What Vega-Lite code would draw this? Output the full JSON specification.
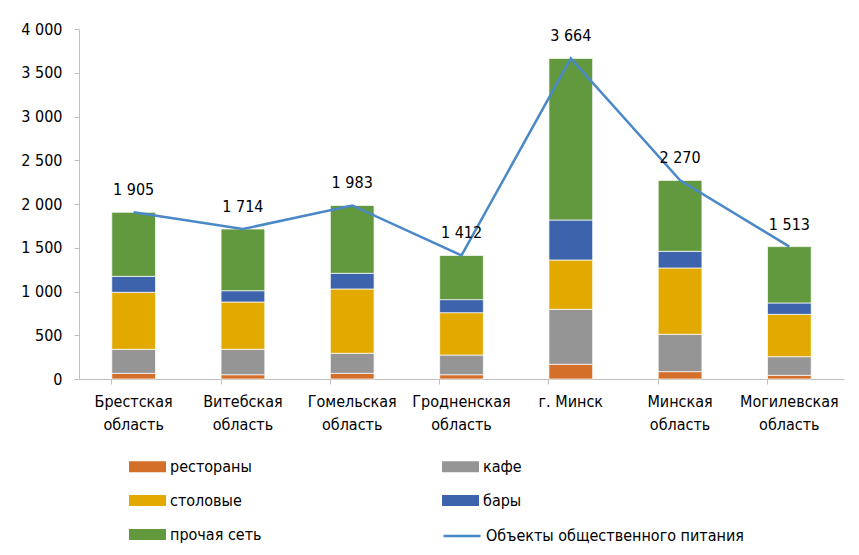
{
  "$schema": "https://vega.github.io/schema/vega-lite/v6.json",
  "autosize": "none",
  "width": 765,
  "height": 350,
  "padding": {"left": 79, "top": 29, "right": 15, "bottom": 176},
  "background": "white",
  "config": {
    "view": {"stroke": null},
    "font": "Liberation Sans Narrow, DejaVu Sans Condensed, sans-serif",
    "locale": {"number": {"decimal": ",", "thousands": " ", "grouping": [3], "currency": ["", ""]}}
  },
  "datasets": {
    "parts": [
      {"region": "Брестская область", "type": "рестораны", "k": 1, "value": 65},
      {"region": "Брестская область", "type": "кафе", "k": 2, "value": 274},
      {"region": "Брестская область", "type": "столовые", "k": 3, "value": 652},
      {"region": "Брестская область", "type": "бары", "k": 4, "value": 182},
      {"region": "Брестская область", "type": "прочая сеть", "k": 5, "value": 732},
      {"region": "Витебская область", "type": "рестораны", "k": 1, "value": 49},
      {"region": "Витебская область", "type": "кафе", "k": 2, "value": 290},
      {"region": "Витебская область", "type": "столовые", "k": 3, "value": 541},
      {"region": "Витебская область", "type": "бары", "k": 4, "value": 129},
      {"region": "Витебская область", "type": "прочая сеть", "k": 5, "value": 705},
      {"region": "Гомельская область", "type": "рестораны", "k": 1, "value": 65},
      {"region": "Гомельская область", "type": "кафе", "k": 2, "value": 229},
      {"region": "Гомельская область", "type": "столовые", "k": 3, "value": 735},
      {"region": "Гомельская область", "type": "бары", "k": 4, "value": 179},
      {"region": "Гомельская область", "type": "прочая сеть", "k": 5, "value": 775},
      {"region": "Гродненская область", "type": "рестораны", "k": 1, "value": 49},
      {"region": "Гродненская область", "type": "кафе", "k": 2, "value": 225},
      {"region": "Гродненская область", "type": "столовые", "k": 3, "value": 484},
      {"region": "Гродненская область", "type": "бары", "k": 4, "value": 149},
      {"region": "Гродненская область", "type": "прочая сеть", "k": 5, "value": 505},
      {"region": "г. Минск", "type": "рестораны", "k": 1, "value": 168},
      {"region": "г. Минск", "type": "кафе", "k": 2, "value": 628},
      {"region": "г. Минск", "type": "столовые", "k": 3, "value": 564},
      {"region": "г. Минск", "type": "бары", "k": 4, "value": 457},
      {"region": "г. Минск", "type": "прочая сеть", "k": 5, "value": 1847},
      {"region": "Минская область", "type": "рестораны", "k": 1, "value": 84},
      {"region": "Минская область", "type": "кафе", "k": 2, "value": 427},
      {"region": "Минская область", "type": "столовые", "k": 3, "value": 758},
      {"region": "Минская область", "type": "бары", "k": 4, "value": 190},
      {"region": "Минская область", "type": "прочая сеть", "k": 5, "value": 811},
      {"region": "Могилевская область", "type": "рестораны", "k": 1, "value": 42},
      {"region": "Могилевская область", "type": "кафе", "k": 2, "value": 213},
      {"region": "Могилевская область", "type": "столовые", "k": 3, "value": 484},
      {"region": "Могилевская область", "type": "бары", "k": 4, "value": 130},
      {"region": "Могилевская область", "type": "прочая сеть", "k": 5, "value": 644}
    ],
    "totals": [
      {"region": "Брестская область", "series": "Объекты общественного питания", "total": 1905},
      {"region": "Витебская область", "series": "Объекты общественного питания", "total": 1714},
      {"region": "Гомельская область", "series": "Объекты общественного питания", "total": 1983},
      {"region": "Гродненская область", "series": "Объекты общественного питания", "total": 1412},
      {"region": "г. Минск", "series": "Объекты общественного питания", "total": 3664},
      {"region": "Минская область", "series": "Объекты общественного питания", "total": 2270},
      {"region": "Могилевская область", "series": "Объекты общественного питания", "total": 1513}
    ]
  },
  "encoding": {
    "x": {
      "field": "region",
      "type": "nominal",
      "sort": null,
      "scale": {"paddingInner": 0.6, "paddingOuter": 0.3},
      "axis": {
        "title": null,
        "labelAngle": 0,
        "bandPosition": 0,
        "domainColor": "#bfbfbf",
        "tickColor": "#bfbfbf",
        "tickSize": 5,
        "labelFontSize": 16,
        "labelColor": "#000000",
        "labelPadding": 9,
        "labelLineHeight": 23,
        "labelBaseline": "top",
        "labelExpr": "indexof(datum.label, 'область') > 0 ? split(datum.label, ' ') : datum.label"
      }
    }
  },
  "layer": [
    {
      "data": {"name": "parts"},
      "mark": {"type": "bar", "stroke": "#ffffff", "strokeWidth": 1, "strokeOpacity": 0.7},
      "encoding": {
        "y": {
          "field": "value",
          "type": "quantitative",
          "stack": "zero",
          "scale": {"domain": [0, 4000]},
          "axis": {
            "title": null,
            "values": [0, 500, 1000, 1500, 2000, 2500, 3000, 3500, 4000],
            "format": ",d",
            "grid": false,
            "domainColor": "#bfbfbf",
            "tickColor": "#bfbfbf",
            "tickSize": 5,
            "labelFontSize": 16,
            "labelColor": "#000000",
            "labelPadding": 12
          }
        },
        "order": {"field": "k", "type": "quantitative"},
        "color": {
          "field": "type",
          "type": "nominal",
          "scale": {
            "domain": ["рестораны", "кафе", "столовые", "бары", "прочая сеть"],
            "range": ["#D46F2A", "#959595", "#E2AA00", "#3C63AB", "#62993E"]
          },
          "legend": {
            "title": null,
            "orient": "none",
            "legendX": 50,
            "legendY": 419,
            "columns": 2,
            "values": ["рестораны", "столовые", "прочая сеть", "кафе", "бары"],
            "columnPadding": 180,
            "rowPadding": 7,
            "symbolType": "M-1,-0.3H1V0.3H-1Z",
            "symbolSize": 1369,
            "symbolStrokeWidth": 0,
            "labelFontSize": 16,
            "labelColor": "#000000",
            "labelOffset": 4
          }
        }
      }
    },
    {
      "data": {"name": "totals"},
      "mark": {"type": "line", "strokeWidth": 2.5},
      "encoding": {
        "y": {"field": "total", "type": "quantitative"},
        "stroke": {
          "field": "series",
          "type": "nominal",
          "scale": {"range": ["#4A88C7"]},
          "legend": {
            "title": null,
            "orient": "none",
            "legendX": 363,
            "legendY": 487,
            "symbolType": "stroke",
            "symbolSize": 1369,
            "symbolStrokeWidth": 2.5,
            "labelFontSize": 16,
            "labelLimit": 400,
            "labelColor": "#000000",
            "labelOffset": 4
          }
        }
      }
    },
    {
      "data": {"name": "totals"},
      "mark": {"type": "text", "dy": -22, "fontSize": 16, "color": "#000000"},
      "encoding": {
        "y": {"field": "total", "type": "quantitative"},
        "text": {"field": "total", "type": "quantitative", "format": ",d"}
      }
    }
  ]
}
